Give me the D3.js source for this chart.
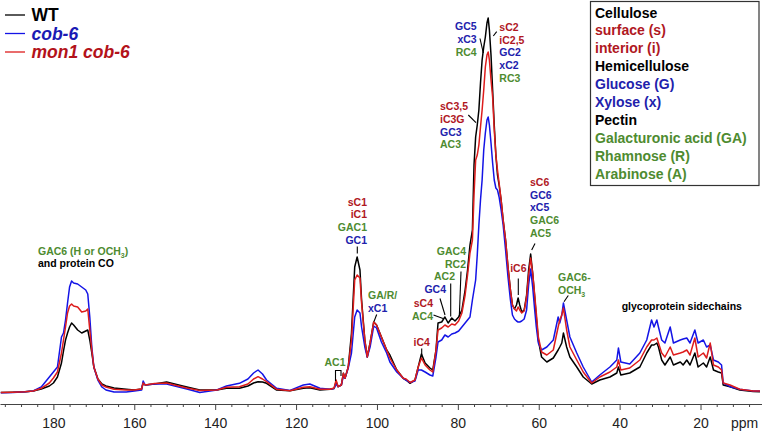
<!DOCTYPE html>
<html>
<head>
<meta charset="utf-8">
<script src="https://cdn.jsdelivr.net/npm/d3@7"></script>
<style>
    body { margin: 0; background: #fff; }
    svg { display: block; font-family: "Liberation Sans", Arial, sans-serif; }
</style>
</head>
<body>
<div id="chart-area"></div>
<script>

// chemical shift (ppm), high to low
let ppm = [
    193.0, 190.0, 187.0, 185.0, 183.0, 181.0, 180.0, 179.0, 178.0, 177.5,
    177.0, 176.5, 176.0, 175.5, 175.0, 174.0, 173.0, 172.0, 171.5, 171.0,
    170.5, 170.0, 169.0, 168.0, 167.0, 165.0, 162.0, 160.0, 158.2, 157.8,
    157.3, 155.0, 152.0, 150.0, 147.0, 143.8, 139.6, 137.2, 134.0, 131.9,
    130.5, 129.4, 128.3, 127.3, 124.8, 121.5, 118.2, 116.6, 114.1, 111.6,
    110.6, 110.1, 109.6, 108.8, 108.3, 107.9, 107.1, 106.3, 105.5, 104.9,
    104.2, 103.8, 103.0, 102.4, 101.7, 100.8, 100.1, 98.9, 97.6, 96.8,
    95.1, 93.5, 92.8, 91.8, 90.6, 89.8, 89.0, 88.1, 86.9, 86.2,
    85.4, 84.9, 84.0, 83.2, 82.4, 81.5, 80.7, 79.8, 79.0, 78.2,
    77.6, 77.0, 76.4, 76.0, 75.6, 75.2, 74.8, 74.4, 74.0, 73.6,
    73.2, 72.8, 72.5, 72.2, 71.8, 71.4, 71.0, 70.6, 70.2, 69.8,
    69.3, 68.8, 68.2, 67.6, 67.0, 66.5, 66.0, 65.5, 65.1, 64.7,
    64.2, 63.6, 63.0, 62.5, 62.0, 61.5, 61.0, 60.6, 60.1, 59.3,
    58.0, 56.4, 55.2, 54.8, 54.3, 53.9, 53.1, 52.3, 50.6, 49.0,
    46.9, 44.9, 42.4, 40.7, 40.3, 39.7, 37.5, 35.0, 33.3, 32.1,
    31.5, 30.8, 30.4, 29.6, 28.8, 27.5, 26.7, 25.0, 24.3, 23.4,
    22.6, 21.4, 20.6, 19.3, 18.5, 17.6, 16.8, 15.6, 14.8, 14.4,
    12.7, 10.3, 7.0, 5.3
];

// intensities (a.u.)
let wt = [
    2.5, 2.8, 3.2, 4, 6, 9, 12, 18, 32, 44,
    55, 62, 68, 72, 70, 65, 62, 64, 65, 55,
    42, 28, 16, 11, 9, 7, 5.7, 5, 6, 12,
    10, 11, 13, 11, 8, 5, 5, 6.7, 6.7, 9,
    12, 13.3, 13, 11.7, 5, 4.3, 6.7, 7.3, 5, 5.7,
    6.5, 13.3, 8.3, 10, 21.7, 16.7, 28, 61.7, 128, 138,
    125, 95, 55, 38, 52, 73, 70, 58, 45, 40,
    25, 16.7, 15, 11.7, 15, 28, 41, 32, 27, 25,
    45, 72, 73, 78, 72, 77, 74, 78, 85, 105,
    125, 150, 165, 230, 258, 270, 285, 312, 335, 348,
    358, 372, 377, 365, 340, 305, 270, 240, 220, 210,
    195, 175, 155, 128, 105, 90, 86, 90, 97, 90,
    83, 85, 100, 125, 141, 122, 98, 78, 55, 38,
    33, 37, 45, 48, 52, 62, 48, 38, 28, 18,
    11, 15, 18, 22, 28, 20, 22, 28, 42, 50,
    50, 52, 48, 35, 30, 38, 30, 33, 30, 35,
    30, 42, 28, 32, 28, 38, 25, 23, 22, 10,
    8.3, 5, 3.5, 3.3
];

let cob6 = [
    2.3, 2.6, 3.2, 4, 8, 18, 23, 28, 58, 62,
    75, 92, 108, 114, 112, 111, 108, 105, 101, 78,
    48, 28, 15, 8, 5, 3, 3, 4, 5, 14,
    10, 11, 11, 9, 6, 2.5, 5, 9, 11.7, 16,
    22, 25, 21, 15, 6.7, 4.6, 10, 11, 6.7, 5.7,
    6.5, 11, 8.3, 10, 19, 16.7, 27, 42, 78, 85,
    82, 68, 48, 38, 48, 69, 67, 53, 42, 33,
    23, 16.7, 15, 12.5, 14, 25, 25, 23, 20, 19,
    38, 53, 55, 60, 58, 61, 62, 64, 68, 72,
    75, 78, 95, 105, 115, 140, 170, 195, 215, 245,
    262, 275, 278, 270, 252, 232, 215, 207, 205, 198,
    185, 170, 145, 118, 95, 80, 76, 74, 73, 73,
    74, 76, 85, 110, 126, 108, 85, 68, 52, 45,
    48, 55, 78, 72, 80, 92, 75, 58, 42, 28,
    13, 20, 28, 35, 47, 33, 31, 42, 55, 75,
    68, 75, 68, 55, 52, 68, 52, 55, 56, 57,
    52, 65, 52, 55, 48, 50, 35, 33, 30, 12,
    8.3, 5.7, 4, 4
];

let mon1cob6 = [
    2.5, 2.8, 3.2, 4, 6.7, 12, 17, 23, 42, 55,
    68, 82, 89, 91, 89, 88, 83, 84, 86, 65,
    45, 28, 16, 10, 8, 5.7, 5, 5, 6, 12,
    10, 11.5, 12, 10, 7, 4.5, 5, 7.7, 8.3, 11,
    16, 18.3, 16, 13.3, 5.7, 4.3, 7.7, 8.3, 5.7, 5.7,
    7, 15, 8.3, 10, 21.7, 16.7, 28, 55, 115, 120,
    117, 92, 55, 38, 52, 73, 70, 58, 45, 37,
    25, 16.7, 16, 12.5, 15, 28, 37, 30, 25, 23,
    45, 65, 67, 70, 68, 71, 70, 74, 82, 100,
    120, 142, 155, 200, 235, 240, 250, 268, 285, 305,
    328, 340, 343, 335, 315, 298, 265, 240, 225, 212,
    195, 175, 155, 128, 105, 90, 86, 84, 88, 85,
    82, 84, 98, 120, 137, 122, 100, 82, 58, 43,
    40, 45, 68, 75, 80, 87, 65, 48, 35, 23,
    12, 18, 23, 28, 35, 25, 27, 35, 48, 55,
    55, 57, 52, 42, 38, 48, 40, 42, 43, 45,
    40, 57, 38, 42, 37, 52, 30, 28, 25, 12,
    10, 5.7, 4, 4
];

let seriesNames = ["WT", "cob-6", "mon1 cob-6"];

let majorTicks = [180, 160, 140, 120, 100, 80, 60, 40, 20];
let minorTicks = [192, 188, 184, 176, 172, 168, 164, 156, 152, 148, 144, 136, 132, 128, 124,
                  116, 112, 108, 104, 96, 92, 88, 84, 76, 72, 68, 64, 56, 52, 48, 44,
                  36, 32, 28, 24, 16, 12, 8];

let keyLabels = ["Cellulose", "surface (s)", "interior (i)", "Hemicellulose", "Glucose (G)",
                 "Xylose (x)", "Pectin", "Galacturonic acid (GA)", "Rhamnose (R)", "Arabinose (A)"];
let keyKinds = ["k", "r", "r", "k", "b", "b", "k", "g", "g", "g"];


class spectrumChart {

    constructor(parentElement) {
        this.parentElement = parentElement;
        this.initVis();
    }

    initVis() {
        let vis = this;

        vis.width = 762;
        vis.height = 435;

        vis.lineColors = {"WT": "#000000", "cob-6": "#1414e6", "mon1 cob-6": "#dd1c1c"};
        vis.textColors = {"k": "#000000", "r": "#b0181f", "b": "#2121ac", "g": "#4e8b30"};

        vis.svg = d3.select("#" + vis.parentElement).append("svg")
            .attr("width", vis.width)
            .attr("height", vis.height);

        // ppm axis runs right to left
        vis.x = d3.scaleLinear().domain([193.2, 4.8]).range([0, vis.width]);
        vis.y = d3.scaleLinear().domain([0, 380]).range([395, 15]);

        // minor ticks
        let minor = vis.svg.append("g")
            .attr("transform", "translate(0,404)")
            .call(d3.axisBottom(vis.x).tickValues(minorTicks).tickSize(3).tickSizeOuter(0).tickFormat(""));
        minor.select(".domain").remove();
        minor.selectAll("line").attr("stroke", "#444");

        // major ticks + labels
        let major = vis.svg.append("g")
            .attr("transform", "translate(0,404)")
            .call(d3.axisBottom(vis.x).tickValues(majorTicks).tickSize(6).tickSizeOuter(0).tickPadding(8));
        major.select(".domain").attr("stroke", "#444");
        major.selectAll("line").attr("stroke", "#444");
        major.selectAll("text")
            .attr("font-family", '"Liberation Sans", Arial, sans-serif')
            .attr("font-size", "14px")
            .attr("fill", "#222");

        vis.svg.append("text")
            .attr("x", 731)
            .attr("y", 428)
            .attr("font-size", "14px")
            .attr("fill", "#222")
            .text("ppm");

        vis.wrangleData();
    }

    wrangleData() {
        let vis = this;

        vis.series = [
            {name: seriesNames[0], values: wt},
            {name: seriesNames[1], values: cob6},
            {name: seriesNames[2], values: mon1cob6}
        ];

        vis.updateVis();
    }

    updateVis() {
        let vis = this;

        let line = d3.line()
            .x((d, i) => vis.x(ppm[i]))
            .y(d => vis.y(d))
            .curve(d3.curveLinear);

        vis.svg.append("g").attr("class", "spectra")
            .selectAll("path")
            .data(vis.series)
            .enter().append("path")
            .attr("d", d => line(d.values))
            .attr("fill", "none")
            .attr("stroke", d => vis.lineColors[d.name])
            .attr("stroke-width", 1.5)
            .attr("stroke-linejoin", "round");

        // series legend, top left
        let legend = vis.svg.append("g").attr("class", "legend");
        vis.series.forEach(function (s, i) {
            let yy = 15 + i * 18.5;
            legend.append("line")
                .attr("x1", 5).attr("x2", 25)
                .attr("y1", yy).attr("y2", yy)
                .attr("stroke", vis.lineColors[s.name])
                .attr("stroke-width", 1.3);
            legend.append("text")
                .attr("x", 31.5)
                .attr("y", yy + 6)
                .attr("font-size", "17.5px")
                .attr("font-weight", "bold")
                .attr("font-style", i === 0 ? "normal" : "italic")
                .attr("fill", i === 0 ? "#000" : (i === 1 ? "#1a1ab4" : "#b3121a"))
                .text(s.name);
        });

        // key box, top right
        let key = vis.svg.append("g").attr("class", "key");
        key.append("rect")
            .attr("x", 590.5).attr("y", 1.5)
            .attr("width", 168.5).attr("height", 184)
            .attr("fill", "#fff")
            .attr("stroke", "#333")
            .attr("stroke-width", 1.2);
        key.selectAll("text")
            .data(keyLabels)
            .enter().append("text")
            .attr("x", 595)
            .attr("y", (d, i) => 17.5 + i * 17.9)
            .attr("font-size", "14px")
            .attr("font-weight", "bold")
            .attr("fill", (d, i) => vis.textColors[keyKinds[i]])
            .text(d => d);

        vis.drawAnnotations();
    }

    drawAnnotations() {
        let vis = this;
        let c = vis.textColors;

        let notes = [
            {x: 38, y: 254.5, anchor: "start", lines: [["GAC6 (H or OCH", c.g, "3", ")"], ["and protein CO", c.k]]},
            {x: 367, y: 205.5, anchor: "end", lines: [["sC1", c.r], ["iC1", c.r], ["GAC1", c.g], ["GC1", c.b]]},
            {x: 335, y: 366, anchor: "middle", lines: [["AC1", c.g]]},
            {x: 368, y: 299, anchor: "start", lines: [["GA/R/", c.g], ["xC1", c.b]]},
            {x: 421.7, y: 345.7, anchor: "middle", lines: [["iC4", c.r]]},
            {x: 433, y: 306.7, anchor: "end", lines: [["sC4", c.r], ["AC4", c.g]]},
            {x: 446, y: 292.5, anchor: "end", lines: [["GC4", c.b]]},
            {x: 455, y: 280, anchor: "end", lines: [["AC2", c.g]]},
            {x: 466, y: 255, anchor: "end", lines: [["GAC4", c.g], ["RC2", c.g]]},
            {x: 518.3, y: 271.7, anchor: "middle", lines: [["iC6", c.r]]},
            {x: 530, y: 185.7, anchor: "start", lines: [["sC6", c.r], ["GC6", c.b], ["xC5", c.b], ["GAC6", c.g], ["AC5", c.g]]},
            {x: 558, y: 280.7, anchor: "start", lines: [["GAC6-", c.g], ["OCH", c.g, "3", ""]]},
            {x: 621.7, y: 310, anchor: "start", lines: [["glycoprotein sidechains", c.k]]},
            {x: 476.7, y: 30, anchor: "end", lines: [["GC5", c.b], ["xC3", c.b], ["RC4", c.g]]},
            {x: 499.3, y: 30.7, anchor: "start", lines: [["sC2", c.r], ["iC2,5", c.r], ["GC2", c.b], ["xC2", c.b], ["RC3", c.g]]},
            {x: 440, y: 110, anchor: "start", lines: [["sC3,5", c.r], ["iC3G", c.r], ["GC3", c.b], ["AC3", c.g]]}
        ];

        let g = vis.svg.append("g").attr("class", "annotations");

        notes.forEach(function (n) {
            n.lines.forEach(function (l, i) {
                let t = g.append("text")
                    .attr("x", n.x)
                    .attr("y", n.y + i * 12.8)
                    .attr("text-anchor", n.anchor)
                    .attr("font-size", "10.5px")
                    .attr("font-weight", "bold")
                    .attr("fill", l[1]);
                t.append("tspan").text(l[0]);
                if (l.length > 2) {
                    t.append("tspan").attr("font-size", "7px").attr("dy", 3).text(l[2]);
                    if (l[3]) t.append("tspan").attr("dy", -3).text(l[3]);
                }
            });
        });

        // leader lines from labels to peaks
        let leaders = [
            "M357.3,246.5 V253.5",
            "M335.5,381 V370.5 H341 V376",
            "M376.7,314.5 L374,321.5",
            "M421.7,348.5 V355",
            "M433.5,315 L443,318.5",
            "M440,298.5 L445,315",
            "M450.7,283.5 V316.5",
            "M461,271.5 L459.3,316.5",
            "M518.3,278.5 V295",
            "M535,243.5 L531.7,250",
            "M568.3,295.5 L564,301.7",
            "M480,38.5 L483.3,53",
            "M496.7,31.7 L493.3,36",
            "M468.3,115 L476,122.7"
        ];
        g.selectAll(".leader")
            .data(leaders)
            .enter().append("path")
            .attr("class", "leader")
            .attr("d", d => d)
            .attr("fill", "none")
            .attr("stroke", "#000")
            .attr("stroke-width", 1.1);
    }
}

let chart = new spectrumChart("chart-area");

</script>
</body>
</html>
